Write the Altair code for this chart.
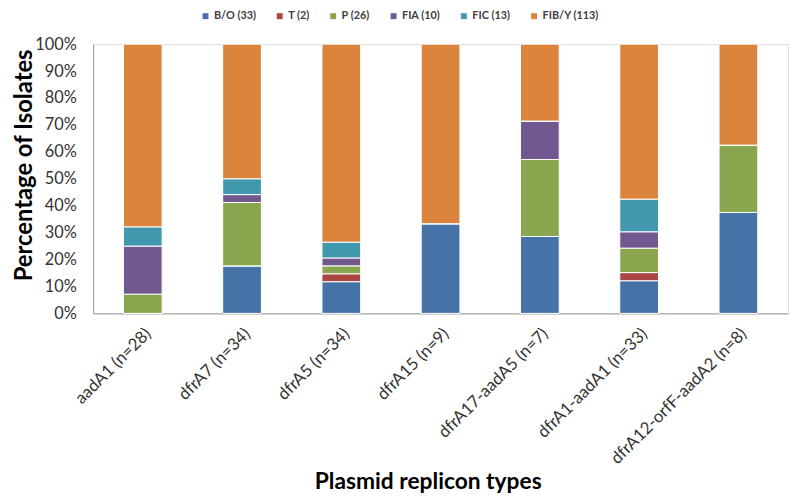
import altair as alt
import pandas as pd

categories = ["aadA1 (n=28)", "dfrA7 (n=34)", "dfrA5 (n=34)", "dfrA15 (n=9)",
              "dfrA17-aadA5 (n=7)", "dfrA1-aadA1 (n=33)", "dfrA12-orfF-aadA2 (n=8)"]
series = ["B/O (33)", "T (2)", "P (26)", "FIA (10)", "FIC (13)", "FIB/Y (113)"]
colors = ["#4572A7", "#AA4643", "#89A54E", "#71588F", "#4198AF", "#DB843D"]

bo   = [0, 6, 4, 3, 2, 4, 3]
t    = [0, 0, 1, 0, 0, 1, 0]
p    = [2, 8, 1, 0, 2, 3, 2]
fia  = [5, 1, 1, 0, 1, 2, 0]
fic  = [2, 2, 2, 0, 0, 4, 0]
fiby = [19, 17, 25, 6, 2, 19, 3]

values = [bo, t, p, fia, fic, fiby]
rows = []
for si, (s, vals) in enumerate(zip(series, values)):
    for c, v in zip(categories, vals):
        rows.append({"cat": c, "series": s, "count": v, "ord": si})
df = pd.DataFrame(rows)

font = "Lato"

chart = alt.Chart(df).mark_bar(stroke="white", strokeWidth=1).encode(
    x=alt.X("cat:N", sort=categories,
            scale=alt.Scale(paddingInner=0.61, paddingOuter=0.305),
            axis=alt.Axis(title="Plasmid replicon types", labelAngle=-45,
                          labelFontSize=17, labelColor="#333333", labelFont=font,
                          labelLimit=400,
                          ticks=False, domainColor="#9a9a9a", labelPadding=12,
                          titleFont=font, titleFontSize=23, titleFontWeight="bold",
                          titleColor="#000000", titleX=338, titleY=170,
                          titleBaseline="middle")),
    y=alt.Y("count:Q", stack="normalize",
            scale=alt.Scale(domain=[0, 1]),
            axis=alt.Axis(title="Percentage of Isolates", format=".0%",
                          values=[i / 10 for i in range(11)],
                          labelFontSize=16.5, labelColor="#333333", labelFont=font,
                          ticks=False, grid=False, domainColor="#9a9a9a",
                          labelPadding=17,
                          titleFont=font, titleFontSize=24, titleFontWeight="bold",
                          titleColor="#000000", titleX=-69, titleY=122,
                          titleBaseline="middle")),
    color=alt.Color("series:N", sort=series,
                    scale=alt.Scale(domain=series, range=colors),
                    legend=alt.Legend(title=None, orient="none", direction="horizontal",
                                      legendX=108, legendY=-34, symbolType="square",
                                      symbolSize=36, symbolStrokeWidth=0,
                                      labelFont=font, labelFontSize=11,
                                      labelColor="#404040", labelFontWeight="bold",
                                      columnPadding=18, labelOffset=3)),
    order=alt.Order("ord:Q", sort="ascending"),
).properties(
    width=702, height=272,
    autosize=alt.AutoSizeParams(type="none"),
    padding={"left": 86, "top": 34, "right": 4, "bottom": 184},
).configure_view(stroke=None).configure(background="white")

chart.save("out.html", embed_options={"renderer": "svg", "actions": False})
